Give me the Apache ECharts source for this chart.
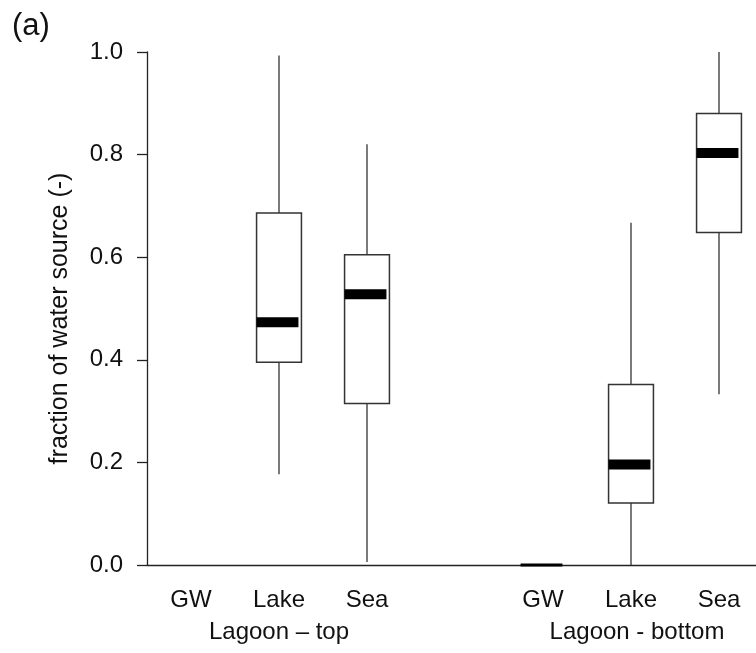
<!DOCTYPE html>
<html>
<head>
<meta charset="utf-8">
<script src="https://cdn.jsdelivr.net/npm/echarts@6/dist/echarts.min.js"></script>
<style>
  html, body { margin: 0; padding: 0; background: #fff; }
  #chart { width: 756px; height: 653px; }
</style>
</head>
<body>
<div id="chart"></div>
<script>
var categories = ['GW', 'Lake', 'Sea', '', 'GW', 'Lake', 'Sea'];
var groupLabels = ['Lagoon \u2013 top', 'Lagoon - bottom'];
// box statistics per category (null = nothing drawn)
var whiskerLow  = [null, 0.177, 0.006, null, 0, 0.000, 0.333];
var q1          = [null, 0.395, 0.315, null, 0, 0.121, 0.648];
var median      = [null, 0.473, 0.528, null, 0, 0.196, 0.803];
var q3          = [null, 0.686, 0.605, null, 0, 0.352, 0.880];
var whiskerHigh = [null, 0.993, 0.820, null, 0, 0.667, 1.000];
var yTicks = [0, 0.2, 0.4, 0.6, 0.8, 1.0];

var FONT = "'Liberation Sans', Arial, sans-serif";

var dom = document.getElementById('chart');
var myChart = echarts.init(dom);

var boxData = [];
for (var i = 0; i < categories.length; i++) {
    if (median[i] == null) continue;
    boxData.push([i, whiskerLow[i], q1[i], median[i], q3[i], whiskerHigh[i]]);
}

function renderBox(params, api) {
    var idx = api.value(0);
    var band = api.size([1, 0])[0];
    var half = band * 0.255;
    var cx = api.coord([idx, 0])[0];
    var yLow = api.coord([idx, api.value(1)])[1];
    var yQ1 = api.coord([idx, api.value(2)])[1];
    var yMed = api.coord([idx, api.value(3)])[1];
    var yQ3 = api.coord([idx, api.value(4)])[1];
    var yHigh = api.coord([idx, api.value(5)])[1];
    var lineStyle = { stroke: '#333', lineWidth: 1.3 };
    // median bar, kept inside the whisker range
    var top = Math.max(yMed - 5, yHigh - 1.5);
    var bot = Math.min(yMed + 5, yLow + 1.5);
    return {
        type: 'group',
        children: [
            { type: 'line', shape: { x1: cx, y1: yHigh, x2: cx, y2: yQ3 }, style: lineStyle },
            { type: 'line', shape: { x1: cx, y1: yQ1, x2: cx, y2: yLow }, style: lineStyle },
            {
                type: 'rect',
                shape: { x: cx - half, y: yQ3, width: half * 2, height: yQ1 - yQ3 },
                style: { fill: yQ1 - yQ3 > 1 ? '#fff' : 'none', stroke: yQ1 - yQ3 > 1 ? '#333' : 'none', lineWidth: 1.5 }
            },
            {
                type: 'rect',
                shape: { x: cx - half, y: top, width: half * 2 - 3, height: bot - top },
                style: { fill: '#000' }
            }
        ]
    };
}

option = {
    backgroundColor: '#fff',
    animation: false,
    title: {
        text: '(a)',
        left: 12,
        top: 11,
        padding: 0,
        textStyle: { fontFamily: FONT, fontSize: 31, fontWeight: 'normal', color: '#111' }
    },
    grid: {
        left: 147,
        right: -7,
        top: 52,
        bottom: 88,
        outerBoundsMode: 'none'
    },
    xAxis: {
        type: 'category',
        data: categories,
        axisLine: { lineStyle: { color: '#222', width: 1.3 } },
        axisTick: {
            length: 17,
            interval: function (index) { return index === 1 || index === 2 || index === 5 || index === 6; },
            lineStyle: { color: '#222', width: 1.3 }
        },
        axisLabel: {
            interval: 0,
            margin: 19,
            color: '#111',
            fontFamily: FONT,
            fontSize: 24,
            lineHeight: 32,
            formatter: function (value, index) {
                if (index === 1) return value + '\n' + groupLabels[0];
                if (index === 5) return value + '\n{b|' + groupLabels[1] + '}';
                return value;
            },
            rich: {
                b: { fontFamily: FONT, fontSize: 24, lineHeight: 32, color: '#111', padding: [0, 0, 0, 12] }
            }
        },
        splitLine: { show: false }
    },
    yAxis: {
        type: 'value',
        min: 0,
        max: 1,
        interval: 0.2,
        name: 'fraction of water source (-)',
        nameLocation: 'middle',
        nameRotate: 90,
        nameGap: 74,
        nameTextStyle: { fontFamily: FONT, fontSize: 25, color: '#111', padding: [0, 20, 0, 0] },
        axisLine: { show: true, lineStyle: { color: '#222', width: 1.3 } },
        axisTick: { show: true, length: 10, lineStyle: { color: '#222', width: 1.3 } },
        axisLabel: {
            margin: 24,
            color: '#111',
            fontFamily: FONT,
            fontSize: 24,
            formatter: function (v) { return v.toFixed(1); }
        },
        splitLine: { show: false }
    },
    series: [{
        type: 'custom',
        renderItem: renderBox,
        encode: { x: 0, y: [1, 2, 3, 4, 5] },
        clip: false,
        data: boxData
    }]
};

if (option && typeof option === 'object') {
    myChart.setOption(option, true);
}
</script>
</body>
</html>
